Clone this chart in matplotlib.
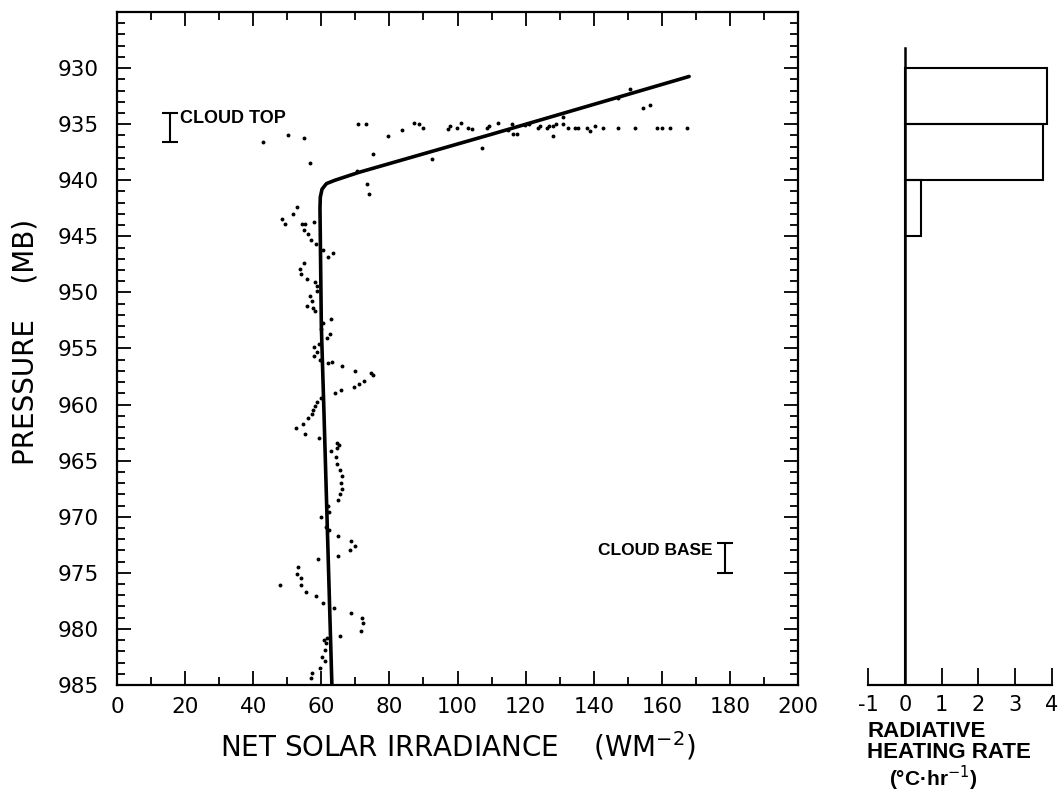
import matplotlib
matplotlib.use("Agg")
import matplotlib.pyplot as plt
from matplotlib.ticker import MultipleLocator

plt.rcParams["font.family"] = ["DejaVu Sans"]
plt.rcParams["axes.unicode_minus"] = False

# measured net solar irradiance (W m-2) vs pressure (mb)
dot_irr = [
    42.9, 50.2, 54.9, 56.7, 70.8, 73.1, 75.2, 70.5, 73.4, 74.0, 79.6, 83.7, 87.2, 88.7,
    89.9, 92.5, 97.2, 97.8, 99.9, 101.0, 103.1, 104.3, 107.2, 108.7, 109.3, 111.9, 114.8,
    116.0, 116.3, 117.5, 119.8, 121.0, 123.6, 124.2, 126.3, 126.9, 128.0, 128.0, 128.9,
    131.0, 131.0, 132.5, 134.5, 135.4, 138.0, 138.9, 140.4, 142.7, 147.1, 147.1, 150.7,
    152.1, 154.5, 156.5, 158.6, 160.1, 162.4, 167.4,
    52.9, 51.7, 48.5, 49.3, 54.3, 55.2, 54.9, 56.1, 57.0, 57.9, 58.4, 60.5, 63.4, 62.0,
    54.9, 53.7, 54.0, 55.8, 58.1, 58.7, 58.7, 56.7, 57.3, 55.8, 57.6, 58.1, 60.5, 62.8,
    59.9, 62.6, 61.7, 59.3, 57.9, 58.7, 57.9, 59.6, 62.0, 63.1, 66.1, 69.9, 74.6, 75.2,
    72.5, 71.1, 69.6, 65.8, 64.0, 59.9, 58.7, 58.1, 57.6, 57.3, 56.1, 54.6, 52.6, 55.2,
    59.3, 64.6, 65.2, 64.6, 62.8, 64.3, 64.6, 65.5, 66.1, 65.8, 66.1, 65.5, 64.9, 62.0,
    62.3, 59.9, 61.4, 62.3, 64.9, 68.7, 69.9, 68.4, 64.9, 59.0, 53.2, 52.9, 54.0, 54.0,
    47.9, 55.5, 58.4, 60.5, 63.7, 68.7, 71.9, 72.2, 71.7, 65.5, 61.7, 60.8, 61.4, 61.1,
    60.2, 61.1, 59.6, 57.3, 57.0,
]
dot_pres = [
    936.6, 936.0, 936.2, 938.5, 935.0, 935.0, 937.7, 939.2, 940.3, 941.2, 936.1, 935.5,
    934.9, 935.0, 935.3, 938.1, 935.4, 935.2, 935.3, 934.9, 935.3, 935.4, 937.1, 935.3,
    935.2, 934.9, 935.5, 935.0, 935.9, 935.9, 935.1, 935.0, 935.3, 935.2, 935.3, 935.2,
    935.2, 936.1, 935.0, 934.4, 935.0, 935.3, 935.3, 935.3, 935.3, 935.6, 935.2, 935.3,
    935.3, 932.7, 931.9, 935.3, 933.6, 933.3, 935.3, 935.3, 935.3, 935.3,
    942.4, 943.0, 943.5, 943.9, 943.9, 943.9, 944.4, 944.8, 945.3, 943.7, 945.7, 946.2,
    946.5, 946.8, 947.4, 947.9, 948.4, 948.8, 949.1, 949.4, 949.9, 950.3, 950.8, 951.2,
    951.4, 951.7, 952.7, 952.4, 953.3, 953.7, 954.1, 954.6, 954.9, 955.3, 955.7, 956.0,
    956.3, 956.2, 956.6, 957.0, 957.2, 957.4, 957.9, 958.2, 958.4, 958.7, 959.0, 959.4,
    959.8, 960.1, 960.5, 960.8, 961.2, 961.7, 962.1, 962.6, 963.0, 963.4, 963.6, 963.9,
    964.1, 964.7, 965.3, 965.8, 966.4, 967.0, 967.5, 968.0, 968.5, 969.0, 969.6, 970.0,
    970.9, 971.2, 971.7, 972.2, 972.6, 973.0, 973.5, 973.8, 974.5, 975.1, 975.5, 976.1,
    976.1, 976.7, 977.1, 977.7, 978.1, 978.6, 979.0, 979.5, 980.2, 980.6, 980.8, 981.0,
    981.3, 981.9, 982.5, 982.9, 983.5, 983.9, 984.4,
]

# smoothed profile
fit_irr = [168.0, 150.0, 110.0, 71.0, 64.0, 61.5, 60.2, 59.7, 59.6, 60.0, 60.8, 63.1]
fit_pres = [930.75, 932.35, 935.9, 939.3, 940.0, 940.3, 940.8, 941.5, 942.5, 953.0, 961.0, 985.0]

# radiative heating rate per 5 mb layer
layer_top = [930, 935, 940, 945, 950, 955, 960, 965, 970, 975, 980]
heating = [3.85, 3.75, 0.45, 0, 0, 0, 0, 0, 0, 0, 0]

cloud_top = (15.6, 934.0, 936.6)
cloud_base = (178.6, 972.3, 975.0)

fig = plt.figure(figsize=(10.6, 7.99), dpi=100)
ax = fig.add_axes([0.1104, 0.1427, 0.6425, 0.8423])

ax.plot(dot_irr, dot_pres, linestyle="none", marker="o", markersize=1.8,
        color="black")
ax.plot(fit_irr, fit_pres, color="black", linewidth=2.6, solid_capstyle="round")

for xv, p0, p1 in [cloud_top, cloud_base]:
    ax.errorbar([xv], [(p0 + p1) / 2], yerr=[(p1 - p0) / 2], fmt="none",
                ecolor="black", elinewidth=1.5, capsize=6, capthick=1.5)
ax.text(18.5, 934.5, "CLOUD TOP", fontsize=13, family="Liberation Sans",
        weight="bold", ha="left", va="center")
ax.text(175.0, 973.0, "CLOUD BASE", fontsize=12.5, family="Liberation Sans",
        weight="bold", ha="right", va="center")

ax.set_xlim(0, 200)
ax.set_ylim(985, 925)
ax.xaxis.set_major_locator(MultipleLocator(20))
ax.xaxis.set_minor_locator(MultipleLocator(10))
ax.yaxis.set_minor_locator(MultipleLocator(1))
ax.set_yticks(range(930, 986, 5))
ax.tick_params(which="both", direction="in", top=True, right=True, width=1.3,
               labelsize=15.5)
ax.tick_params(which="major", length=10)
ax.tick_params(which="minor", length=6)
ax.tick_params(axis="x", pad=9)
ax.tick_params(axis="y", pad=13)
for s in ax.spines.values():
    s.set_linewidth(1.6)

fig.text(0.432, 0.066, "NET SOLAR IRRADIANCE    (WM$^{-2}$)", fontsize=20,
         ha="center", va="center")
fig.text(0.024, 0.572, "PRESSURE    (MB)", fontsize=20, rotation=90,
         ha="center", va="center")

# heating rate panel on the same pressure scale
hx = fig.add_axes([0.8189, 0.1427, 0.1736, 0.8423])
hx.set_xlim(-1, 4)
hx.set_ylim(985, 925)
hx.plot([0, 0], [928.2, 985], color="black", linewidth=1.8)
hx.barh([t + 2.5 for t in layer_top], heating, height=5, left=0,
        facecolor="none", edgecolor="black", linewidth=1.5)
for side in ["left", "top", "right"]:
    hx.spines[side].set_visible(False)
hx.spines["bottom"].set_linewidth(1.6)
hx.set_yticks([])
hx.set_xticks(range(-1, 5))
hx.tick_params(axis="x", direction="in", length=12, width=1.3, labelsize=15, pad=7)

fig.text(0.818, 0.0839, "RADIATIVE", fontsize=16, family="Liberation Sans",
         weight="bold", ha="left", va="center")
fig.text(0.818, 0.0588, "HEATING RATE", fontsize=16, family="Liberation Sans",
         weight="bold", ha="left", va="center")
fig.text(0.880, 0.0263, "(°C·hr$^{-1}$)", fontsize=15, family="Liberation Sans",
         weight="bold", ha="center", va="center")

fig.savefig("out.png", dpi=100)
